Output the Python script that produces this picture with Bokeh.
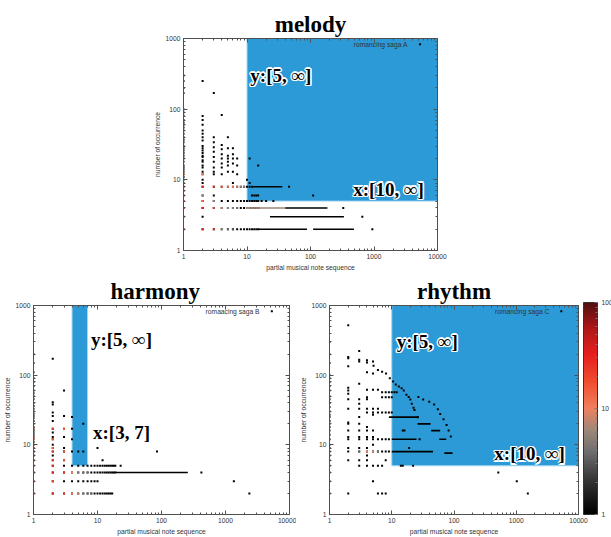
from bokeh.plotting import figure
from bokeh.models import (Range1d, FixedTicker, NumeralTickFormatter, LogAxis, Label,
                          ColumnDataSource, LogColorMapper, ColorBar, Spacer, CustomJSTickFormatter)
from bokeh.layouts import row, column
from bokeh.embed import file_html
from bokeh.resources import INLINE
from bokeh.transform import log_cmap

# ---------------- data ----------------
x_major = [1, 10, 100, 1000, 10000]
y_major = [1, 10, 100, 1000]
cbar_major = [1, 10, 100]

# melody : columns of points (x, list of y)
melody_col_x = [1, 2, 3, 4, 5, 6, 7, 8, 9, 10, 11, 12, 13, 14, 15, 17, 20, 26, 46, 110, 328, 655, 942]
melody_col_y = [
    [300, 250, 200, 170, 100, 90, 80, 70, 65, 60, 55, 50, 45, 40, 37, 34, 30, 28, 26, 24, 22, 20, 18, 16, 15, 14, 13, 12, 11, 10, 9, 8, 7, 6, 5, 4, 3, 2],
    [250, 80, 70, 60, 50, 45, 40, 36, 30, 28, 26, 24, 22, 21, 19, 18, 16, 15, 13, 12, 10, 9, 8, 6, 5, 4, 3, 2],
    [169, 40, 34, 29, 25, 21, 18, 15, 13, 12, 8, 6, 5, 4, 2],
    [83, 31, 27, 23, 20, 17, 15, 12, 8, 5, 4, 2],
    [40, 28, 22, 20, 18, 16, 13, 8, 5, 4, 2],
    [28, 23, 20, 17, 13, 9, 8, 5, 4, 2],
    [20, 16, 12, 8, 5, 4, 2],
    [8, 5, 4, 2],
    [8, 5, 4, 2],
    [10, 8, 5, 4, 2],
    [20, 9, 8, 5, 4, 2],
    [8, 6, 5, 4, 2],
    [6, 5, 4, 2],
    [6, 5, 4, 2],
    [16, 6, 5, 4, 2],
    [5], [5], [5], [8], [6], [4], [3], [2]]
melody_hot_x = [1, 1, 1, 1, 1, 1, 2, 2, 2, 2, 2, 2, 3, 3, 3, 3, 4, 4, 4, 5, 5, 5, 6, 6, 6, 7, 7, 8, 9, 10, 11, 12, 13, 14, 15]
melody_hot_y = [12, 8, 6, 5, 4, 2, 12, 8, 6, 5, 4, 2, 8, 5, 4, 2, 8, 4, 2, 8, 4, 2, 8, 4, 2, 8, 4, 8, 8, 4, 4, 4, 4, 4, 4]
melody_hot_c = [15, 25, 20, 15, 25, 25, 10, 30, 6, 12, 30, 30, 25, 6, 20, 25, 15, 8, 6, 12, 6, 4, 10, 5, 3, 8, 5, 6, 5, 6, 6, 6, 6, 6, 6]
melody_run_x0 = [12, 15, 40, 23, 15, 110]
melody_run_x1 = [36, 40, 185, 336, 88, 483]
melody_run_y = [8, 4, 4, 3, 2, 2]
melody_run_c = [1, 6, 1, 1, 1, 1]

# harmony
harmony_col_x = [1, 2, 3, 4, 5, 6, 7, 8, 9, 10, 11, 12, 13, 14, 15, 16, 17, 18, 19, 23, 85, 420, 1350, 2360]
harmony_col_y = [
    [200, 150, 110, 90, 80, 70, 60, 55, 50, 45, 40, 36, 33, 30, 28, 26, 24, 22, 20, 18, 17, 16, 15, 14, 13, 12, 11, 10, 9, 8, 7, 6, 5, 4, 3, 2],
    [172, 41, 38, 29, 26, 22, 17, 15, 13, 12, 10, 9, 8, 7, 6, 5, 4, 3, 2],
    [60, 26, 17, 13, 9, 8, 6, 5, 4, 3, 2],
    [25, 17, 12, 8, 5, 4, 3, 2],
    [8, 5, 4, 3, 2],
    [20, 8, 5, 4, 3, 2],
    [5, 4, 3, 2], [5, 4, 3, 2], [5, 4, 3, 2],
    [9, 5, 4, 3, 2],
    [5, 4, 2], [6, 5, 4, 2], [5, 4, 2], [5, 4, 2], [5, 4, 2], [5, 4, 2], [5, 4, 2],
    [5, 4], [5, 4], [5], [8], [4], [3], [2]]
harmony_hot_x = [1, 1, 1, 1, 1, 1, 1, 1, 1, 1, 1, 1, 2, 2, 2, 2, 2, 2, 2, 2, 2, 3, 3, 3, 3, 3, 4, 4, 5, 5, 6, 6, 7, 7, 8]
harmony_hot_y = [17, 13, 12, 10, 9, 8, 7, 6, 5, 4, 3, 2, 17, 12, 9, 8, 6, 5, 4, 3, 2, 17, 8, 6, 4, 2, 4, 2, 4, 2, 4, 2, 4, 2, 2]
harmony_hot_c = [10, 12, 15, 10, 15, 20, 15, 20, 25, 30, 20, 25, 20, 15, 15, 20, 20, 25, 30, 20, 30, 15, 20, 15, 25, 25, 10, 12, 5, 8, 4, 5, 4, 4, 4]
harmony_run_x0 = [19]
harmony_run_x1 = [258]
harmony_run_y = [4]
harmony_run_c = [1]

# rhythm
rhythm_col_x = [1, 2, 3, 4, 5, 6, 7, 8, 9, 10, 11, 12, 14, 15, 16, 19, 22, 28, 515, 1020, 1535]
rhythm_col_y = [
    [300, 200, 150, 100, 90, 80, 70, 60, 50, 45, 40, 35, 30, 27, 25, 22, 20, 18, 16, 14, 12, 10, 9, 8, 7, 6, 5, 4, 3, 2],
    [520, 183, 175, 134, 66, 60, 54, 45, 33, 21, 20, 16, 13, 12, 9, 8, 6, 2],
    [223, 166, 157, 75, 45, 39, 33, 25, 20, 16, 13, 12, 9, 8, 6, 5],
    [164, 152, 110, 62, 48, 45, 33, 29, 18, 16, 13, 12, 9, 8, 7, 6, 5],
    [157, 106, 62, 33, 29, 27, 16, 13, 12, 10, 8, 5, 3],
    [62, 33, 29, 12, 8, 5, 2],
    [57, 48, 29, 12, 8, 5, 2],
    [57, 48, 29, 12, 8, 6, 2],
    [57, 48, 29, 12, 8],
    [57, 48, 29],
    [57], [57],
    [5], [16, 5], [16], [9], [5], [12], [4], [3], [2]]
rhythm_curve_x = [5.1, 6, 7, 8.1, 9.3, 10.5, 11.6, 13, 14.4, 15.6, 17.2, 18.7, 19.9, 21, 22.4, 23.2, 26.2,
                  26.8, 32, 40, 48, 55, 60, 68, 76, 82, 89]
rhythm_curve_y = [137, 119, 112, 106, 90, 81, 73.5, 69, 65, 60, 52.5, 48.5, 44.6, 39, 34, 31.5, 24.8,
                  48.5, 44.6, 41.5, 38, 32.5, 27.6, 23.3, 19.2, 16, 13.2]
rhythm_hot_x = [3, 4, 5, 6]
rhythm_hot_y = [8, 8, 8, 8]
rhythm_hot_c = [4, 10, 8, 4]
rhythm_run_x0 = [9, 26, 43, 10, 58, 10, 70]
rhythm_run_x1 = [27, 42, 60, 25, 75, 46, 95]
rhythm_run_y = [25, 20, 16, 12, 12, 8, 7.6]
rhythm_run_c = [1, 1, 1, 1, 1, 1, 1]

# shaded selection regions: [left, right, bottom, top]
melody_region = [10, 10000, 5, 1000]
harmony_region = [4, 7, 5, 1000]
rhythm_region = [10, 10000, 5, 1000]

# ---------------- styling ----------------
SANS = "Liberation Sans"
SERIF = "Liberation Serif"
BLUE = "#2c9ad6"
FRAME = "#505050"
TXT = "#333333"
SMALL = "6.7px"
DOT = 2.0

anchors = [(0.0, (0, 0, 0)), (0.15, (48, 48, 48)), (0.3, (112, 112, 112)), (0.4, (160, 136, 120)),
           (0.5, (240, 128, 96)), (0.62, (240, 80, 48)), (0.75, (232, 32, 32)), (0.88, (176, 24, 24)),
           (1.0, (80, 16, 16))]


def build_palette(n=256):
    out = []
    for i in range(n):
        t = i / (n - 1)
        for (t0, c0), (t1, c1) in zip(anchors[:-1], anchors[1:]):
            if t0 <= t <= t1:
                f = (t - t0) / (t1 - t0)
                rgb = [round(a + (b - a) * f) for a, b in zip(c0, c1)]
                out.append("#%02x%02x%02x" % tuple(rgb))
                break
    return out


PALETTE = build_palette()
x_minor = [m * 10 ** k for k in range(4) for m in range(2, 10)]
y_minor = [m * 10 ** k for k in range(3) for m in range(2, 10)]


def cmap():
    return log_cmap("c", PALETTE, 1, 100)


def style_axis(ax, ticker, labels=True):
    ax.ticker = ticker
    ax.major_tick_in = 4
    ax.major_tick_out = 0
    ax.minor_tick_in = 2
    ax.minor_tick_out = 0
    ax.axis_line_color = FRAME
    ax.major_tick_line_color = FRAME
    ax.minor_tick_line_color = FRAME
    if labels:
        ax.formatter = NumeralTickFormatter(format="0")
        ax.major_label_text_font = SANS
        ax.major_label_text_font_size = SMALL
        ax.major_label_text_color = TXT
        ax.major_label_standoff = 3
        ax.axis_label_text_font = SANS
        ax.axis_label_text_font_size = SMALL
        ax.axis_label_text_font_style = "normal"
        ax.axis_label_text_color = TXT
        ax.axis_label_standoff = 2
    else:
        ax.formatter = CustomJSTickFormatter(code="return ''")
        ax.major_label_text_font_size = "1px"
        ax.major_label_standoff = 0


def make_plot(title, width, height, mb, title_align, title_offset, col_x, col_y, hot, runs, region,
              legend_text, extra_x=None, extra_y=None):
    p = figure(width=width, height=height, x_axis_type="log", y_axis_type="log",
               x_range=Range1d(1, 10000), y_range=Range1d(1, 1000),
               output_backend="svg", toolbar_location=None,
               min_border_left=mb[0], min_border_right=mb[1],
               min_border_top=mb[2], min_border_bottom=mb[3])
    p.grid.visible = False
    p.outline_line_color = FRAME
    p.title.text = title
    p.title.text_font = SERIF
    p.title.text_font_style = "bold"
    p.title.text_font_size = "23px"
    p.title.text_color = "black"
    p.title.align = title_align
    p.title.offset = title_offset
    p.title.standoff = 3

    style_axis(p.xaxis[0], FixedTicker(ticks=x_major, minor_ticks=x_minor))
    style_axis(p.yaxis[0], FixedTicker(ticks=y_major, minor_ticks=y_minor))
    p.xaxis[0].axis_label = "partial musical note sequence"
    p.yaxis[0].axis_label = "number of occurrence"
    top = LogAxis()
    style_axis(top, FixedTicker(ticks=x_major, minor_ticks=x_minor), labels=False)
    p.add_layout(top, "above")
    right = LogAxis()
    style_axis(right, FixedTicker(ticks=y_major, minor_ticks=y_minor), labels=False)
    p.add_layout(right, "right")

    p.quad(left=[region[0]], right=[region[1]], bottom=[region[2]], top=[region[3]],
           fill_color=BLUE, line_color="#a4d8f2", line_width=1)

    xs, ys = [], []
    for x, yl in zip(col_x, col_y):
        for y in yl:
            xs.append(x)
            ys.append(y)
    if extra_x is not None:
        xs += list(extra_x)
        ys += list(extra_y)
    base = ColumnDataSource(dict(x=xs, y=ys, c=[1] * len(xs)))
    r0 = ColumnDataSource(dict(x0=runs[0], x1=runs[1], y=runs[2], c=runs[3]))
    p.segment(x0="x0", y0="y", x1="x1", y1="y", source=r0, line_color=cmap(), line_width=1.6)
    p.scatter("x", "y", source=base, marker="square", size=DOT, fill_color=cmap(), line_color=None)
    hs = ColumnDataSource(dict(x=hot[0], y=hot[1], c=hot[2]))
    p.scatter("x", "y", source=hs, marker="square", size=DOT, fill_color=cmap(), line_color=None)

    p.add_layout(Label(x=3400, y=830, text=legend_text, text_font=SANS, text_font_size=SMALL,
                       text_color=TXT, text_align="right", text_baseline="middle"))
    p.scatter(x=[5300], y=[830], marker="square", size=DOT, fill_color="black", line_color=None)
    return p


HALO = [(-1.5, 0), (1.5, 0), (0, -1.5), (0, 1.5), (-1.1, -1.1), (1.1, 1.1), (-1.1, 1.1), (1.1, -1.1)]
LIFT = 6.5


def big_label(p, x, y, text, align):
    for dx, dy in HALO:
        p.add_layout(Label(x=x, y=y, x_offset=dx, y_offset=dy + LIFT, text=text, text_font=SERIF,
                           text_font_style="bold", text_font_size="19px", text_color="white",
                           text_align=align, text_baseline="alphabetic"))
    p.add_layout(Label(x=x, y=y, y_offset=LIFT, text=text, text_font=SERIF, text_font_style="bold",
                       text_font_size="19px", text_color="black",
                       text_align=align, text_baseline="alphabetic"))


melody = make_plot("melody", 297, 275, (33, 10, 38, 25), "center", 0, melody_col_x, melody_col_y,
                   (melody_hot_x, melody_hot_y, melody_hot_c),
                   (melody_run_x0, melody_run_x1, melody_run_y, melody_run_c),
                   melody_region, "romancing saga A")
big_label(melody, 11.3, 244, "y:[5, ∞]", "left")
big_label(melody, 6080, 6.0, "x:[10, ∞]", "right")

harmony = make_plot("harmony", 296, 262, (33, 7, 29, 21), "left", 77, harmony_col_x, harmony_col_y,
                    (harmony_hot_x, harmony_hot_y, harmony_hot_c),
                    (harmony_run_x0, harmony_run_x1, harmony_run_y, harmony_run_c),
                    harmony_region, "romaacing saga B")
big_label(harmony, 7.9, 265, "y:[5, ∞]", "left")
big_label(harmony, 8.5, 12.0, "x:[3, 7]", "left")

rhythm = make_plot("rhythm", 315, 262, (26, 33, 29, 21), "center", 0, rhythm_col_x, rhythm_col_y,
                   (rhythm_hot_x, rhythm_hot_y, rhythm_hot_c),
                   (rhythm_run_x0, rhythm_run_x1, rhythm_run_y, rhythm_run_c),
                   rhythm_region, "romancing saga C", rhythm_curve_x, rhythm_curve_y)
big_label(rhythm, 12.0, 246, "y:[5, ∞]", "left")
big_label(rhythm, 6040, 5.96, "x:[10, ∞]", "right")

mapper = LogColorMapper(palette=PALETTE, low=1, high=100)
cb = ColorBar(color_mapper=mapper, width=14, height=212, location=(254, 0), padding=0, margin=0,
              ticker=FixedTicker(ticks=cbar_major, minor_ticks=[2, 3, 4, 5, 6, 7, 8, 9, 20, 30, 40, 50, 60, 70, 80, 90]),
              formatter=NumeralTickFormatter(format="0"),
              major_label_text_font=SANS, major_label_text_font_size=SMALL,
              major_label_text_color=TXT, label_standoff=4,
              major_tick_line_color="#777777", minor_tick_line_color="#777777",
              major_tick_in=3, minor_tick_in=2,
              bar_line_color="#333333", background_fill_alpha=0, border_line_color=None)
rhythm.add_layout(cb)

layout = column(row(Spacer(width=150, height=275), melody), row(harmony, rhythm))
open("out.html", "w").write(file_html(layout, INLINE))
